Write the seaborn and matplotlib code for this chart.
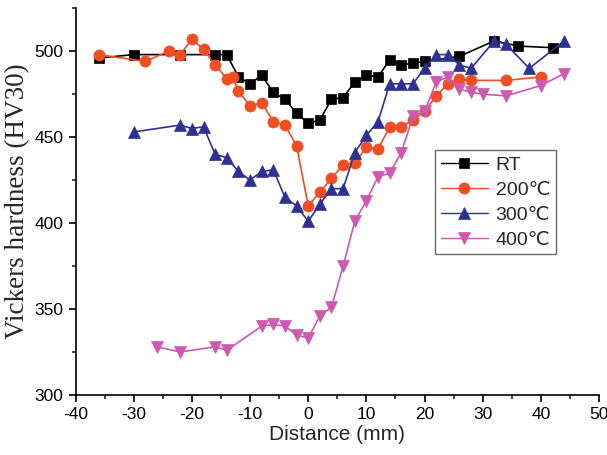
import numpy as np
import pandas as pd
import matplotlib
matplotlib.use("Agg")
import matplotlib.pyplot as plt
from matplotlib.ticker import MultipleLocator
import seaborn as sns

# Hardness profile data
rt_x = [-36, -30, -22, -16, -14, -12, -10, -8, -6, -4, -2, 0, 2, 4, 6, 8, 10, 12, 14, 16, 18, 20, 26, 32, 36, 42]
rt_y = [496, 498, 498, 498, 498, 485, 481, 486, 476, 472, 464, 458, 460, 472, 473, 482, 486, 485, 495, 492, 493, 494, 497, 506, 503, 502]

t200_x = [-36, -28, -24, -22, -20, -18, -16, -14, -13, -12, -10, -8, -6, -4, -2, 0, 2, 4, 6, 8, 10, 12, 14, 16, 18, 20, 22, 24, 26, 28, 34, 40]
t200_y = [498, 494, 500, 498, 507, 501, 492, 484, 485, 477, 468, 470, 459, 457, 445, 410, 418, 426, 434, 435, 444, 443, 456, 456, 460, 465, 474, 481, 484, 483, 483, 485]

t300_x = [-30, -22, -20, -18, -16, -14, -12, -10, -8, -6, -4, -2, 0, 2, 4, 6, 8, 10, 12, 14, 16, 18, 20, 22, 24, 26, 28, 32, 34, 38, 44]
t300_y = [453, 457, 455, 456, 440, 438, 430, 425, 430, 431, 415, 410, 401, 411, 420, 420, 441, 451, 459, 481, 481, 481, 490, 498, 498, 492, 490, 506, 504, 490, 506]

t400_x = [-26, -22, -16, -14, -8, -6, -4, -2, 0, 2, 4, 6, 8, 10, 12, 14, 16, 18, 20, 22, 24, 26, 28, 30, 34, 40, 44]
t400_y = [328, 325, 328, 326, 340, 341, 340, 335, 333, 346, 351, 375, 401, 413, 427, 429, 441, 462, 465, 482, 485, 478, 476, 475, 474, 480, 487]

labels = ["RT", "200\u2103", "300\u2103", "400\u2103"]
colors = ["#000000", "#F04E23", "#2E3192", "#CC5AAE"]
markers = ["s", "o", "^", "v"]
sizes = [7.5, 8, 8.5, 8.5]

sns.set_style("ticks")
plt.rcParams['font.family'] = ['Liberation Sans', 'DejaVu Sans']
plt.rcParams['axes.unicode_minus'] = False

fig = plt.figure(figsize=(6.07, 4.55), dpi=100)
ax = fig.add_axes([0.1244, 0.132, 0.8626, 0.850])

series = [(rt_x, rt_y), (t200_x, t200_y), (t300_x, t300_y), (t400_x, t400_y)]
for (xs, ys), lab, c, m, s in zip(series, labels, colors, markers, sizes):
    df = pd.DataFrame({"x": xs, "y": ys})
    sns.lineplot(data=df, x="x", y="y", ax=ax, sort=False, color=c, marker=m,
                 markersize=s, markeredgecolor=c, markeredgewidth=0.5,
                 linewidth=1.2, label=lab)

ax.set_xlim(-40, 50)
ax.set_ylim(300, 525)
ax.xaxis.set_major_locator(MultipleLocator(10))
ax.xaxis.set_minor_locator(MultipleLocator(5))
ax.yaxis.set_major_locator(MultipleLocator(50))
ax.yaxis.set_minor_locator(MultipleLocator(25))
ax.tick_params(which="major", direction="out", length=5, width=1.2, labelsize=12.5, colors="black")
ax.tick_params(which="minor", direction="out", length=3, width=1.2)
for sp_name in ["top", "right"]:
    ax.spines[sp_name].set_visible(False)
for sp_name in ["left", "bottom"]:
    ax.spines[sp_name].set_linewidth(1.2)
    ax.spines[sp_name].set_color("black")

ax.set_xlabel("Distance (mm)", fontsize=15, labelpad=2)
ax.set_ylabel("Vickers hardness (HV30)", fontsize=19.5, family="Liberation Serif", labelpad=3)

leg = ax.legend(loc="upper left", bbox_to_anchor=(0.687, 0.633), borderaxespad=0,
                fontsize=14, handlelength=2.4, handletextpad=0.4, labelspacing=0.38,
                fancybox=False, frameon=True, borderpad=0.3)
leg.get_frame().set_edgecolor("#444444")
leg.get_frame().set_linewidth(1.0)
for line in leg.get_lines():
    line.set_linewidth(1.0)

fig.savefig("out.png", dpi=100)
